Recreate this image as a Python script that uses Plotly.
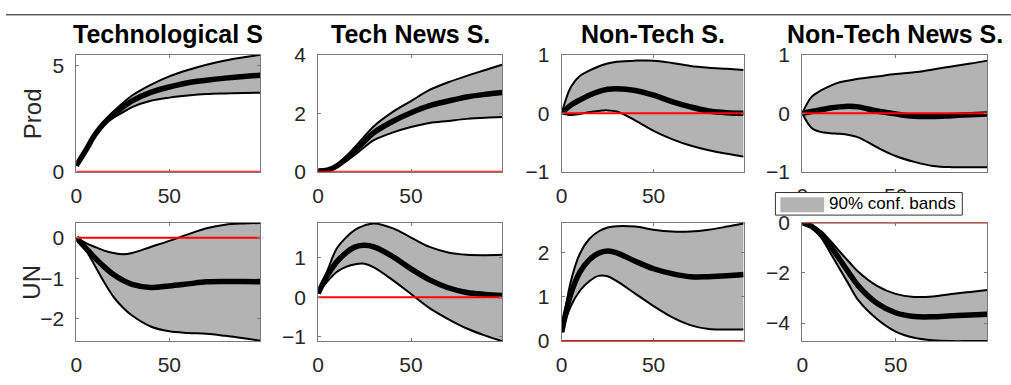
import plotly.graph_objects as go

W, H = 1011, 385

horizon = [0, 5, 10, 15, 20, 25, 30, 40, 50, 60, 70, 80, 90, 99]

shock_titles = ["Technological S", "Tech News S.", "Non-Tech S.", "Non-Tech News S."]
var_labels = ["Prod", "UN"]
legend_label = "90% conf. bands"

# Prod responses
prod_tech_med = [0.3, 1.0, 1.75, 2.3, 2.7, 3.05, 3.35, 3.75, 4.0, 4.2, 4.32, 4.42, 4.5, 4.55]
prod_tech_up = [0.3, 1.0, 1.8, 2.4, 2.85, 3.25, 3.6, 4.1, 4.5, 4.8, 5.05, 5.25, 5.4, 5.52]
prod_tech_lo = [0.3, 0.95, 1.7, 2.2, 2.55, 2.8, 3.05, 3.35, 3.5, 3.6, 3.67, 3.7, 3.72, 3.73]

prod_technews_med = [0.03, 0.06, 0.2, 0.45, 0.75, 1.05, 1.34, 1.72, 2.02, 2.26, 2.42, 2.56, 2.65, 2.71]
prod_technews_up = [0.03, 0.08, 0.25, 0.52, 0.86, 1.22, 1.56, 2.04, 2.42, 2.8, 3.06, 3.28, 3.48, 3.66]
prod_technews_lo = [0.03, 0.05, 0.16, 0.36, 0.59, 0.85, 1.08, 1.34, 1.53, 1.67, 1.74, 1.81, 1.85, 1.87]

prod_nontech_med = [0.0, 0.14, 0.23, 0.31, 0.37, 0.41, 0.42, 0.39, 0.31, 0.2, 0.11, 0.04, 0.01, 0.0]
prod_nontech_up = [0.0, 0.45, 0.64, 0.73, 0.8, 0.85, 0.88, 0.9, 0.9, 0.86, 0.81, 0.78, 0.76, 0.74]
prod_nontech_lo = [0.0, -0.03, -0.01, 0.02, 0.04, 0.05, 0.03, -0.12, -0.3, -0.44, -0.55, -0.63, -0.69, -0.74]

prod_nontechnews_med = [0.0, 0.03, 0.06, 0.09, 0.11, 0.12, 0.11, 0.04, -0.01, -0.05, -0.055, -0.04, -0.025, -0.01]
prod_nontechnews_up = [0.0, 0.28, 0.39, 0.47, 0.53, 0.56, 0.59, 0.63, 0.67, 0.7, 0.75, 0.8, 0.85, 0.9]
prod_nontechnews_lo = [0.0, -0.25, -0.32, -0.34, -0.35, -0.37, -0.41, -0.58, -0.73, -0.83, -0.9, -0.92, -0.92, -0.92]

# UN responses
un_tech_med = [0.0, -0.25, -0.5, -0.72, -0.91, -1.05, -1.15, -1.23, -1.19, -1.14, -1.09, -1.08, -1.08, -1.09]
un_tech_up = [0.0, -0.13, -0.23, -0.32, -0.38, -0.41, -0.38, -0.23, -0.08, 0.08, 0.23, 0.32, 0.35, 0.36]
un_tech_lo = [0.0, -0.3, -0.69, -1.1, -1.46, -1.72, -1.92, -2.19, -2.31, -2.35, -2.37, -2.42, -2.48, -2.54]

un_technews_med = [0.1, 0.56, 0.9, 1.13, 1.28, 1.32, 1.28, 1.04, 0.72, 0.44, 0.24, 0.12, 0.07, 0.04]
un_technews_up = [0.1, 0.68, 1.24, 1.52, 1.72, 1.83, 1.88, 1.76, 1.52, 1.28, 1.14, 1.08, 1.07, 1.08]
un_technews_lo = [0.1, 0.4, 0.64, 0.77, 0.84, 0.85, 0.76, 0.44, 0.08, -0.28, -0.56, -0.8, -0.98, -1.12]

un_nontech_med = [0.2, 1.07, 1.56, 1.83, 1.98, 2.03, 1.99, 1.8, 1.63, 1.52, 1.45, 1.45, 1.47, 1.5]
un_nontech_up = [0.2, 1.35, 1.98, 2.3, 2.47, 2.56, 2.59, 2.58, 2.51, 2.47, 2.47, 2.51, 2.58, 2.65]
un_nontech_lo = [0.2, 0.79, 1.14, 1.35, 1.47, 1.46, 1.35, 1.07, 0.79, 0.54, 0.36, 0.27, 0.26, 0.26]

un_nontechnews_med = [0.0, -0.15, -0.46, -0.93, -1.46, -2.0, -2.52, -3.21, -3.59, -3.74, -3.75, -3.71, -3.68, -3.65]
un_nontechnews_up = [0.0, -0.11, -0.34, -0.72, -1.15, -1.56, -1.96, -2.52, -2.84, -2.96, -2.94, -2.84, -2.76, -2.68]
un_nontechnews_lo = [0.0, -0.21, -0.59, -1.2, -1.84, -2.47, -3.09, -3.84, -4.34, -4.59, -4.69, -4.72, -4.72, -4.72]

zero_line = [0, 0]
x_ticks = [0, 50]

panels = [
    # row, col, median, upper, lower, yrange, yticks
    (0, 0, prod_tech_med, prod_tech_up, prod_tech_lo, [0, 5.52], [0, 5]),
    (0, 1, prod_technews_med, prod_technews_up, prod_technews_lo, [0, 4], [0, 2, 4]),
    (0, 2, prod_nontech_med, prod_nontech_up, prod_nontech_lo, [-1, 1], [-1, 0, 1]),
    (0, 3, prod_nontechnews_med, prod_nontechnews_up, prod_nontechnews_lo, [-1, 1], [-1, 0, 1]),
    (1, 0, un_tech_med, un_tech_up, un_tech_lo, [-2.55, 0.37], [-2, -1, 0]),
    (1, 1, un_technews_med, un_technews_up, un_technews_lo, [-1.12, 1.9], [-1, 0, 1]),
    (1, 2, un_nontech_med, un_nontech_up, un_nontech_lo, [0, 2.67], [0, 1, 2]),
    (1, 3, un_nontechnews_med, un_nontechnews_up, un_nontechnews_lo, [-4.72, 0], [-4, -2, 0]),
]

# pixel boxes of axes
col_px = [(70.7, 256), (314, 499), (559, 742), (801, 987)]
row_px = [(45.5, 170), (224, 350)]

FONT = "Liberation Sans, Arial, Helvetica, sans-serif"
AX_COL = "#7a7a7a"
TXT_COL = "#262626"

fig = go.Figure()
layout = dict(
    width=W, height=H, margin=dict(l=0, r=0, t=0, b=0),
    paper_bgcolor="white", plot_bgcolor="white", showlegend=False,
    font=dict(family=FONT, color=TXT_COL),
)

for i, (r, c, med, up, lo, yr, yt) in enumerate(panels):
    idx = "" if i == 0 else str(i + 1)
    xa, ya = "x" + idx, "y" + idx
    fig.add_trace(go.Scatter(x=horizon, y=lo, xaxis=xa, yaxis=ya, mode="lines",
                             line=dict(color="black", width=2, shape="spline"),
                             hoverinfo="skip"))
    fig.add_trace(go.Scatter(x=horizon, y=up, xaxis=xa, yaxis=ya, mode="lines",
                             fill="tonexty", fillcolor="#b3b3b3",
                             line=dict(color="black", width=2, shape="spline"),
                             name=legend_label, hoverinfo="skip"))
    fig.add_trace(go.Scatter(x=horizon, y=med, xaxis=xa, yaxis=ya, mode="lines",
                             line=dict(color="black", width=5.5, shape="spline")))
    fig.add_trace(go.Scatter(x=[horizon[0], horizon[-1]], y=zero_line, xaxis=xa, yaxis=ya,
                             mode="lines", line=dict(color="#ff0000", width=2)))
    x0, x1 = col_px[c]
    y0, y1 = row_px[r]
    common = dict(showline=True, linecolor=AX_COL, linewidth=1, mirror="allticks",
                  ticks="inside", ticklen=3, tickcolor=AX_COL, showgrid=False,
                  zeroline=False, tickfont=dict(size=21, color=TXT_COL, family=FONT))
    layout["xaxis" + idx] = dict(domain=[x0 / W, x1 / W], range=[0, 99], tickvals=x_ticks,
                                 anchor=ya, ticklabelstandoff=5, **common)
    layout["yaxis" + idx] = dict(domain=[1 - y1 / H, 1 - y0 / H], range=yr, tickvals=yt,
                                 anchor=xa, ticklabelstandoff=7, **common)

annotations = []
for c, t in enumerate(shock_titles):
    x0, x1 = col_px[c]
    annotations.append(dict(text="<b>%s</b>" % t, x=(x0 + x1) / 2 / W, y=1 - 23.5 / H,
                            xref="paper", yref="paper", showarrow=False,
                            xanchor="center", yanchor="middle",
                            font=dict(size=25, color="black", family=FONT)))
for r, t in enumerate(var_labels):
    y0, y1 = row_px[r]
    annotations.append(dict(text=t, x=26 / W, y=1 - (y0 + y1) / 2 / H, xref="paper",
                            yref="paper", showarrow=False, textangle=-90,
                            xanchor="center", yanchor="middle",
                            font=dict(size=24, color=TXT_COL, family=FONT)))
annotations.append(dict(text=legend_label, x=826 / W, y=1 - 204 / H, xref="paper",
                        yref="paper", showarrow=False, xanchor="left", yanchor="middle",
                        font=dict(size=17, color="black", family=FONT)))
layout["annotations"] = annotations

layout["shapes"] = [
    dict(type="line", xref="paper", yref="paper", x0=0, x1=1, y0=1 - 3 / H, y1=1 - 3 / H,
         line=dict(color="#111111", width=1)),
    dict(type="rect", xref="paper", yref="paper", x0=774 / W, x1=962 / W,
         y0=1 - 216 / H, y1=1 - 192 / H, fillcolor="white",
         line=dict(color="#333333", width=1), layer="above"),
    dict(type="rect", xref="paper", yref="paper", x0=779 / W, x1=823 / W,
         y0=1 - 213 / H, y1=1 - 197 / H, fillcolor="#b3b3b3",
         line=dict(width=0), layer="above"),
]

fig.update_layout(**layout)
fig.write_html("out.html")
